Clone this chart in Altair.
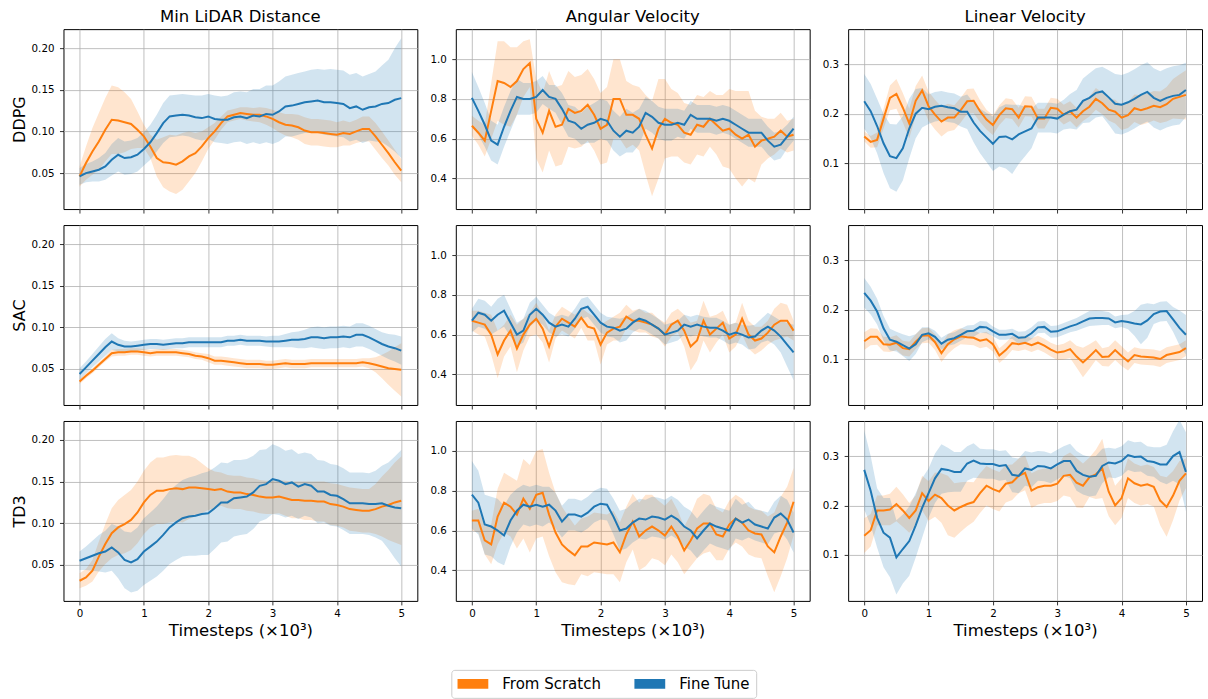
import altair as alt
import pandas as pd

# Sample positions (thousands of timesteps)
steps = [round(i * 0.1, 1) for i in range(51)]

ALGOS = ["DDPG", "SAC", "TD3"]
METRICS = ["Min LiDAR Distance", "Angular Velocity", "Linear Velocity"]
METHODS = ["From Scratch", "Fine Tune"]
COLORS = ["#ff7f0e", "#1f77b4"]

# ---- Min LiDAR Distance ----
ddpg_dist_fs = [0.046, 0.062, 0.076, 0.088, 0.102, 0.114, 0.113, 0.111, 0.109, 0.102,
                0.094, 0.082, 0.068, 0.063, 0.062, 0.060, 0.064, 0.070, 0.074, 0.082,
                0.092, 0.100, 0.110, 0.118, 0.120, 0.122, 0.121, 0.120, 0.120, 0.118,
                0.115, 0.111, 0.108, 0.107, 0.105, 0.101, 0.099, 0.099, 0.098, 0.097,
                0.096, 0.098, 0.097, 0.100, 0.103, 0.103, 0.094, 0.084, 0.074, 0.063,
                0.053]
ddpg_dist_fs_sd = [0.012, 0.020, 0.028, 0.034, 0.038, 0.041, 0.040, 0.036, 0.030, 0.022,
                   0.014, 0.014, 0.022, 0.030, 0.034, 0.035, 0.034, 0.030, 0.024, 0.018,
                   0.013, 0.010, 0.008, 0.007, 0.007, 0.007, 0.008, 0.008, 0.009, 0.010,
                   0.011, 0.012, 0.013, 0.014, 0.015, 0.016, 0.016, 0.016, 0.016, 0.016,
                   0.015, 0.015, 0.014, 0.014, 0.015, 0.015, 0.016, 0.016, 0.015, 0.015,
                   0.014]
ddpg_dist_ft = [0.046, 0.050, 0.052, 0.054, 0.058, 0.066, 0.072, 0.068, 0.069, 0.072,
                0.079, 0.087, 0.098, 0.110, 0.118, 0.119, 0.120, 0.119, 0.117, 0.116,
                0.118, 0.115, 0.114, 0.114, 0.117, 0.118, 0.116, 0.119, 0.118, 0.121,
                0.120, 0.124, 0.130, 0.131, 0.133, 0.135, 0.136, 0.137, 0.135, 0.135,
                0.134, 0.133, 0.128, 0.130, 0.126, 0.129, 0.130, 0.133, 0.134, 0.138,
                0.140]
ddpg_dist_ft_sd = [0.010, 0.011, 0.012, 0.014, 0.016, 0.019, 0.020, 0.020, 0.020, 0.020,
                   0.020, 0.021, 0.022, 0.024, 0.025, 0.025, 0.025, 0.025, 0.026, 0.027,
                   0.027, 0.028, 0.028, 0.029, 0.030, 0.030, 0.031, 0.032, 0.033, 0.034,
                   0.035, 0.036, 0.036, 0.037, 0.037, 0.037, 0.038, 0.038, 0.039, 0.040,
                   0.040, 0.040, 0.040, 0.040, 0.040, 0.040, 0.042, 0.046, 0.052, 0.062,
                   0.072]

sac_dist_fs = [0.035, 0.042, 0.048, 0.055, 0.062, 0.069, 0.070, 0.070, 0.071, 0.071,
               0.070, 0.069, 0.070, 0.070, 0.070, 0.070, 0.069, 0.068, 0.066, 0.065,
               0.063, 0.060, 0.060, 0.059, 0.058, 0.057, 0.056, 0.056, 0.056, 0.055,
               0.055, 0.056, 0.057, 0.056, 0.056, 0.056, 0.057, 0.057, 0.057, 0.057,
               0.057, 0.057, 0.057, 0.057, 0.058, 0.057, 0.055, 0.053, 0.051, 0.050,
               0.049]
sac_dist_fs_sd = [0.003, 0.003, 0.003, 0.003, 0.003, 0.004, 0.004, 0.004, 0.004, 0.004,
                  0.004, 0.004, 0.004, 0.004, 0.004, 0.004, 0.004, 0.004, 0.004, 0.004,
                  0.005, 0.005, 0.005, 0.005, 0.005, 0.005, 0.005, 0.005, 0.005, 0.005,
                  0.005, 0.005, 0.005, 0.005, 0.005, 0.005, 0.005, 0.005, 0.005, 0.005,
                  0.005, 0.005, 0.005, 0.005, 0.005, 0.006, 0.009, 0.014, 0.020, 0.026,
                  0.032]
sac_dist_ft = [0.044, 0.052, 0.060, 0.068, 0.076, 0.083, 0.079, 0.077, 0.077, 0.078,
               0.079, 0.080, 0.080, 0.079, 0.080, 0.081, 0.081, 0.082, 0.082, 0.082,
               0.082, 0.082, 0.082, 0.084, 0.084, 0.085, 0.084, 0.084, 0.084, 0.083,
               0.083, 0.083, 0.084, 0.085, 0.085, 0.086, 0.088, 0.088, 0.087, 0.088,
               0.088, 0.089, 0.088, 0.091, 0.091, 0.088, 0.084, 0.080, 0.077, 0.075,
               0.072]
sac_dist_ft_sd = [0.007, 0.007, 0.008, 0.009, 0.010, 0.010, 0.008, 0.007, 0.006, 0.006,
                  0.006, 0.006, 0.006, 0.006, 0.006, 0.006, 0.006, 0.006, 0.006, 0.006,
                  0.006, 0.006, 0.006, 0.006, 0.006, 0.006, 0.006, 0.006, 0.006, 0.006,
                  0.007, 0.007, 0.008, 0.009, 0.010, 0.011, 0.012, 0.013, 0.013, 0.013,
                  0.013, 0.013, 0.013, 0.014, 0.014, 0.014, 0.014, 0.014, 0.015, 0.016,
                  0.017]

td3_dist_fs = [0.031, 0.035, 0.043, 0.060, 0.075, 0.088, 0.095, 0.099, 0.104, 0.113,
               0.125, 0.134, 0.139, 0.139, 0.141, 0.142, 0.141, 0.143, 0.143, 0.142,
               0.141, 0.140, 0.141, 0.138, 0.137, 0.137, 0.135, 0.134, 0.132, 0.131,
               0.131, 0.132, 0.130, 0.128, 0.128, 0.127, 0.127, 0.126, 0.126, 0.123,
               0.122, 0.120, 0.117, 0.116, 0.115, 0.115, 0.117, 0.120, 0.122, 0.125,
               0.127]
td3_dist_fs_sd = [0.009, 0.010, 0.013, 0.018, 0.024, 0.030, 0.033, 0.035, 0.036, 0.037,
                  0.038, 0.039, 0.040, 0.040, 0.040, 0.040, 0.040, 0.038, 0.035, 0.030,
                  0.025, 0.022, 0.020, 0.020, 0.020, 0.020, 0.020, 0.020, 0.020, 0.020,
                  0.020, 0.020, 0.021, 0.022, 0.022, 0.023, 0.023, 0.024, 0.024, 0.025,
                  0.025, 0.025, 0.026, 0.026, 0.026, 0.026, 0.030, 0.036, 0.042, 0.048,
                  0.053]
td3_dist_ft = [0.055, 0.058, 0.061, 0.064, 0.066, 0.071, 0.065, 0.056, 0.053, 0.057,
               0.066, 0.072, 0.078, 0.086, 0.095, 0.101, 0.106, 0.108, 0.109, 0.111,
               0.112, 0.118, 0.125, 0.125, 0.130, 0.131, 0.132, 0.137, 0.145, 0.147,
               0.153, 0.151, 0.147, 0.149, 0.144, 0.147, 0.145, 0.138, 0.138, 0.134,
               0.133, 0.129, 0.124, 0.124, 0.124, 0.123, 0.123, 0.124, 0.121, 0.119,
               0.118]
td3_dist_ft_sd = [0.011, 0.014, 0.018, 0.022, 0.025, 0.028, 0.031, 0.034, 0.036, 0.038,
                  0.040, 0.041, 0.042, 0.043, 0.044, 0.045, 0.046, 0.047, 0.048, 0.049,
                  0.050, 0.049, 0.048, 0.047, 0.046, 0.045, 0.045, 0.044, 0.043, 0.042,
                  0.042, 0.041, 0.040, 0.040, 0.039, 0.038, 0.038, 0.038, 0.037, 0.037,
                  0.037, 0.037, 0.037, 0.037, 0.037, 0.037, 0.040, 0.045, 0.052, 0.061,
                  0.070]

# ---- Angular Velocity ----
ddpg_ang_fs = [0.665, 0.63, 0.59, 0.74, 0.89, 0.88, 0.86, 0.89, 0.95, 0.98,
               0.70, 0.63, 0.74, 0.66, 0.67, 0.75, 0.73, 0.74, 0.77, 0.72,
               0.65, 0.67, 0.80, 0.80, 0.72, 0.72, 0.70, 0.62, 0.55, 0.65,
               0.70, 0.68, 0.67, 0.63, 0.62, 0.67, 0.66, 0.70, 0.67, 0.64,
               0.65, 0.62, 0.60, 0.62, 0.56, 0.59, 0.60, 0.61, 0.64, 0.61,
               0.62]
ddpg_ang_fs_sd = [0.05, 0.06, 0.08, 0.14, 0.20, 0.21, 0.20, 0.17, 0.14, 0.12,
                  0.20, 0.20, 0.20, 0.20, 0.20, 0.19, 0.18, 0.18, 0.18, 0.18,
                  0.18, 0.19, 0.20, 0.20, 0.17, 0.15, 0.16, 0.20, 0.24, 0.25,
                  0.20, 0.17, 0.16, 0.15, 0.15, 0.15, 0.15, 0.14, 0.15, 0.18,
                  0.20, 0.22, 0.24, 0.22, 0.18, 0.12, 0.10, 0.09, 0.09, 0.08,
                  0.08]
ddpg_ang_ft = [0.805, 0.74, 0.67, 0.59, 0.57, 0.66, 0.74, 0.81, 0.80, 0.80,
               0.81, 0.845, 0.81, 0.80, 0.75, 0.69, 0.68, 0.65, 0.67, 0.68,
               0.70, 0.69, 0.64, 0.61, 0.64, 0.63, 0.66, 0.73, 0.71, 0.68,
               0.67, 0.67, 0.68, 0.67, 0.72, 0.70, 0.70, 0.70, 0.69, 0.70,
               0.69, 0.67, 0.65, 0.63, 0.63, 0.63, 0.59, 0.56, 0.57, 0.61,
               0.65]
ddpg_ang_ft_sd = [0.13, 0.12, 0.11, 0.10, 0.10, 0.10, 0.10, 0.09, 0.08, 0.08,
                  0.08, 0.07, 0.06, 0.07, 0.08, 0.08, 0.08, 0.08, 0.09, 0.10,
                  0.10, 0.10, 0.10, 0.10, 0.11, 0.10, 0.09, 0.08, 0.08, 0.08,
                  0.08, 0.08, 0.07, 0.07, 0.07, 0.07, 0.07, 0.07, 0.07, 0.07,
                  0.07, 0.07, 0.07, 0.07, 0.07, 0.07, 0.07, 0.07, 0.07, 0.06,
                  0.06]

sac_ang_fs = [0.67, 0.66, 0.65, 0.60, 0.50, 0.57, 0.62, 0.53, 0.60, 0.65,
              0.68, 0.63, 0.54, 0.64, 0.68, 0.66, 0.64, 0.685, 0.64, 0.63,
              0.55, 0.61, 0.63, 0.64, 0.69, 0.67, 0.67, 0.66, 0.65, 0.63,
              0.60, 0.65, 0.67, 0.62, 0.54, 0.57, 0.67, 0.60, 0.63, 0.66,
              0.58, 0.60, 0.68, 0.60, 0.57, 0.58, 0.61, 0.65, 0.67, 0.67,
              0.62]
sac_ang_fs_sd = [0.05, 0.06, 0.06, 0.10, 0.12, 0.08, 0.08, 0.12, 0.08, 0.06,
                 0.08, 0.07, 0.08, 0.06, 0.06, 0.06, 0.06, 0.05, 0.07, 0.06,
                 0.10, 0.06, 0.06, 0.07, 0.06, 0.05, 0.06, 0.05, 0.06, 0.05,
                 0.06, 0.06, 0.06, 0.08, 0.12, 0.10, 0.10, 0.09, 0.07, 0.06,
                 0.07, 0.06, 0.08, 0.07, 0.07, 0.06, 0.06, 0.08, 0.09, 0.08,
                 0.05]
sac_ang_ft = [0.67, 0.71, 0.70, 0.67, 0.70, 0.72, 0.66, 0.60, 0.62, 0.70,
              0.73, 0.70, 0.66, 0.64, 0.65, 0.64, 0.68, 0.73, 0.74, 0.70,
              0.66, 0.64, 0.635, 0.62, 0.63, 0.66, 0.68, 0.67, 0.65, 0.63,
              0.60, 0.61, 0.62, 0.65, 0.64, 0.65, 0.64, 0.635, 0.635, 0.62,
              0.60, 0.61, 0.60, 0.585, 0.59, 0.62, 0.64, 0.62, 0.59, 0.55,
              0.51]
sac_ang_ft_sd = [0.06, 0.07, 0.07, 0.07, 0.08, 0.08, 0.07, 0.06, 0.06, 0.06,
                 0.06, 0.05, 0.05, 0.05, 0.05, 0.05, 0.05, 0.05, 0.05, 0.05,
                 0.05, 0.05, 0.05, 0.06, 0.06, 0.05, 0.05, 0.05, 0.05, 0.05,
                 0.05, 0.05, 0.05, 0.05, 0.05, 0.05, 0.05, 0.05, 0.05, 0.05,
                 0.05, 0.05, 0.05, 0.06, 0.06, 0.06, 0.07, 0.07, 0.08, 0.11,
                 0.14]

td3_ang_fs = [0.65, 0.65, 0.55, 0.53, 0.67, 0.74, 0.72, 0.68, 0.76, 0.71,
              0.78, 0.79, 0.68, 0.59, 0.53, 0.50, 0.475, 0.52, 0.52, 0.54,
              0.535, 0.53, 0.54, 0.49, 0.58, 0.645, 0.57, 0.60, 0.62, 0.60,
              0.575, 0.62, 0.57, 0.50, 0.55, 0.61, 0.635, 0.635, 0.58, 0.57,
              0.63, 0.66, 0.64, 0.60, 0.585, 0.58, 0.52, 0.49, 0.57, 0.64,
              0.745]
td3_ang_fs_sd = [0.05, 0.06, 0.07, 0.10, 0.14, 0.15, 0.15, 0.17, 0.20, 0.22,
                 0.22, 0.22, 0.21, 0.20, 0.19, 0.17, 0.15, 0.14, 0.15, 0.15,
                 0.15, 0.15, 0.16, 0.15, 0.14, 0.14, 0.17, 0.18, 0.16, 0.15,
                 0.15, 0.14, 0.13, 0.12, 0.13, 0.15, 0.15, 0.14, 0.13, 0.12,
                 0.12, 0.12, 0.12, 0.12, 0.12, 0.12, 0.15, 0.20, 0.20, 0.18,
                 0.17]
td3_ang_ft = [0.78, 0.74, 0.63, 0.62, 0.60, 0.575, 0.65, 0.70, 0.73, 0.72,
              0.73, 0.72, 0.73, 0.70, 0.645, 0.68, 0.68, 0.67, 0.69, 0.72,
              0.735, 0.73, 0.67, 0.60, 0.61, 0.64, 0.66, 0.655, 0.67, 0.665,
              0.655, 0.675, 0.655, 0.62, 0.60, 0.56, 0.60, 0.635, 0.62, 0.61,
              0.60, 0.66, 0.64, 0.655, 0.63, 0.62, 0.61, 0.665, 0.685, 0.655,
              0.59]
td3_ang_ft_sd = [0.17, 0.16, 0.15, 0.15, 0.16, 0.15, 0.13, 0.11, 0.10, 0.10,
                 0.10, 0.10, 0.09, 0.09, 0.08, 0.08, 0.08, 0.08, 0.08, 0.08,
                 0.08, 0.08, 0.09, 0.10, 0.10, 0.10, 0.10, 0.10, 0.10, 0.10,
                 0.10, 0.10, 0.10, 0.10, 0.10, 0.10, 0.10, 0.10, 0.10, 0.10,
                 0.10, 0.10, 0.09, 0.09, 0.08, 0.08, 0.08, 0.08, 0.09, 0.10,
                 0.10]

# ---- Linear Velocity ----
ddpg_lin_fs = [0.154, 0.143, 0.147, 0.190, 0.232, 0.240, 0.212, 0.180, 0.226, 0.247,
               0.215, 0.198, 0.184, 0.192, 0.192, 0.207, 0.225, 0.226, 0.205, 0.188,
               0.177, 0.197, 0.211, 0.209, 0.192, 0.215, 0.214, 0.190, 0.190, 0.212,
               0.210, 0.198, 0.205, 0.192, 0.205, 0.214, 0.230, 0.221, 0.208, 0.204,
               0.192, 0.197, 0.211, 0.207, 0.211, 0.216, 0.213, 0.219, 0.230, 0.234,
               0.238]
ddpg_lin_fs_sd = [0.010, 0.012, 0.015, 0.020, 0.025, 0.030, 0.030, 0.030, 0.030, 0.030,
                  0.030, 0.030, 0.030, 0.028, 0.025, 0.025, 0.025, 0.025, 0.022, 0.020,
                  0.020, 0.020, 0.020, 0.020, 0.020, 0.020, 0.020, 0.020, 0.020, 0.020,
                  0.020, 0.020, 0.020, 0.020, 0.020, 0.020, 0.022, 0.022, 0.022, 0.024,
                  0.025, 0.026, 0.028, 0.030, 0.030, 0.030, 0.032, 0.035, 0.040, 0.045,
                  0.050]
ddpg_lin_ft = [0.225, 0.205, 0.175, 0.140, 0.114, 0.110, 0.130, 0.170, 0.200, 0.212,
               0.209, 0.214, 0.216, 0.213, 0.211, 0.204, 0.204, 0.182, 0.165, 0.152,
               0.139, 0.153, 0.154, 0.148, 0.158, 0.164, 0.170, 0.192, 0.192, 0.192,
               0.190, 0.198, 0.205, 0.208, 0.226, 0.232, 0.242, 0.245, 0.233, 0.220,
               0.218, 0.223, 0.230, 0.238, 0.244, 0.232, 0.226, 0.232, 0.236, 0.238,
               0.248]
ddpg_lin_ft_sd = [0.055, 0.055, 0.055, 0.060, 0.065, 0.068, 0.065, 0.060, 0.050, 0.040,
                  0.030, 0.030, 0.030, 0.030, 0.030, 0.030, 0.035, 0.040, 0.045, 0.050,
                  0.055, 0.060, 0.065, 0.070, 0.060, 0.050, 0.040, 0.030, 0.030, 0.030,
                  0.030, 0.030, 0.035, 0.040, 0.045, 0.050, 0.050, 0.050, 0.055, 0.060,
                  0.060, 0.060, 0.060, 0.060, 0.060, 0.060, 0.060, 0.060, 0.060, 0.060,
                  0.055]

sac_lin_fs = [0.136, 0.145, 0.145, 0.130, 0.129, 0.133, 0.122, 0.120, 0.135, 0.147,
              0.148, 0.134, 0.112, 0.130, 0.140, 0.146, 0.144, 0.143, 0.137, 0.140,
              0.130, 0.107, 0.118, 0.132, 0.130, 0.133, 0.128, 0.133, 0.127, 0.119,
              0.113, 0.115, 0.120, 0.105, 0.093, 0.105, 0.118, 0.104, 0.105, 0.118,
              0.106, 0.095, 0.108, 0.105, 0.104, 0.103, 0.100, 0.108, 0.111, 0.114,
              0.122]
sac_lin_fs_sd = [0.018, 0.017, 0.016, 0.015, 0.015, 0.015, 0.015, 0.015, 0.015, 0.015,
                 0.015, 0.016, 0.018, 0.020, 0.018, 0.016, 0.015, 0.015, 0.015, 0.015,
                 0.015, 0.015, 0.015, 0.014, 0.014, 0.014, 0.014, 0.014, 0.014, 0.014,
                 0.015, 0.016, 0.018, 0.022, 0.030, 0.025, 0.020, 0.018, 0.020, 0.020,
                 0.020, 0.018, 0.016, 0.016, 0.016, 0.016, 0.016, 0.016, 0.016, 0.016,
                 0.016]
sac_lin_ft = [0.234, 0.218, 0.196, 0.162, 0.139, 0.135, 0.128, 0.121, 0.130, 0.149,
              0.152, 0.145, 0.131, 0.139, 0.142, 0.149, 0.156, 0.157, 0.165, 0.164,
              0.156, 0.149, 0.149, 0.151, 0.143, 0.144, 0.152, 0.164, 0.165, 0.155,
              0.156, 0.161, 0.166, 0.170, 0.176, 0.182, 0.183, 0.183, 0.182, 0.174,
              0.177, 0.175, 0.172, 0.170, 0.178, 0.191, 0.196, 0.197, 0.180, 0.163,
              0.149]
sac_lin_ft_sd = [0.030, 0.028, 0.026, 0.025, 0.022, 0.020, 0.022, 0.025, 0.020, 0.015,
                 0.012, 0.012, 0.012, 0.012, 0.012, 0.012, 0.012, 0.012, 0.012, 0.012,
                 0.010, 0.010, 0.010, 0.010, 0.012, 0.012, 0.012, 0.012, 0.012, 0.012,
                 0.012, 0.012, 0.012, 0.013, 0.014, 0.015, 0.015, 0.014, 0.013, 0.012,
                 0.012, 0.015, 0.025, 0.040, 0.035, 0.020, 0.020, 0.020, 0.025, 0.035,
                 0.040]

td3_lin_fs = [0.139, 0.150, 0.190, 0.190, 0.192, 0.203, 0.190, 0.175, 0.190, 0.225,
              0.209, 0.222, 0.215, 0.200, 0.190, 0.197, 0.203, 0.207, 0.225, 0.240,
              0.233, 0.228, 0.244, 0.247, 0.260, 0.266, 0.230, 0.237, 0.240, 0.240,
              0.244, 0.260, 0.262, 0.246, 0.240, 0.257, 0.263, 0.275, 0.228, 0.200,
              0.215, 0.255, 0.245, 0.240, 0.243, 0.238, 0.210, 0.197, 0.220, 0.250,
              0.265]
td3_lin_fs_sd = [0.035, 0.033, 0.030, 0.030, 0.032, 0.035, 0.033, 0.030, 0.030, 0.035,
                 0.040, 0.045, 0.050, 0.060, 0.055, 0.050, 0.045, 0.040, 0.040, 0.040,
                 0.040, 0.040, 0.038, 0.036, 0.035, 0.035, 0.035, 0.035, 0.035, 0.035,
                 0.035, 0.040, 0.045, 0.050, 0.045, 0.040, 0.050, 0.060, 0.050, 0.040,
                 0.040, 0.040, 0.040, 0.040, 0.040, 0.040, 0.050, 0.060, 0.050, 0.040,
                 0.030]
td3_lin_ft = [0.272, 0.230, 0.175, 0.145, 0.135, 0.095, 0.112, 0.128, 0.160, 0.195,
              0.225, 0.255, 0.274, 0.272, 0.268, 0.268, 0.285, 0.291, 0.285, 0.284,
              0.284, 0.280, 0.282, 0.262, 0.260, 0.275, 0.272, 0.280, 0.279, 0.275,
              0.283, 0.290, 0.290, 0.270, 0.262, 0.258, 0.260, 0.280, 0.287, 0.285,
              0.290, 0.302, 0.298, 0.299, 0.290, 0.288, 0.283, 0.283, 0.300, 0.308,
              0.268]
td3_lin_ft_sd = [0.080, 0.070, 0.060, 0.070, 0.080, 0.075, 0.070, 0.070, 0.065, 0.060,
                 0.050, 0.050, 0.050, 0.045, 0.040, 0.040, 0.035, 0.035, 0.030, 0.030,
                 0.030, 0.030, 0.030, 0.035, 0.035, 0.035, 0.035, 0.030, 0.030, 0.030,
                 0.030, 0.030, 0.035, 0.040, 0.040, 0.040, 0.040, 0.035, 0.030, 0.030,
                 0.030, 0.030, 0.030, 0.030, 0.030, 0.030, 0.035, 0.040, 0.050, 0.065,
                 0.080]

series = {
    ("DDPG", "Min LiDAR Distance"): [(ddpg_dist_fs, ddpg_dist_fs_sd), (ddpg_dist_ft, ddpg_dist_ft_sd)],
    ("SAC", "Min LiDAR Distance"): [(sac_dist_fs, sac_dist_fs_sd), (sac_dist_ft, sac_dist_ft_sd)],
    ("TD3", "Min LiDAR Distance"): [(td3_dist_fs, td3_dist_fs_sd), (td3_dist_ft, td3_dist_ft_sd)],
    ("DDPG", "Angular Velocity"): [(ddpg_ang_fs, ddpg_ang_fs_sd), (ddpg_ang_ft, ddpg_ang_ft_sd)],
    ("SAC", "Angular Velocity"): [(sac_ang_fs, sac_ang_fs_sd), (sac_ang_ft, sac_ang_ft_sd)],
    ("TD3", "Angular Velocity"): [(td3_ang_fs, td3_ang_fs_sd), (td3_ang_ft, td3_ang_ft_sd)],
    ("DDPG", "Linear Velocity"): [(ddpg_lin_fs, ddpg_lin_fs_sd), (ddpg_lin_ft, ddpg_lin_ft_sd)],
    ("SAC", "Linear Velocity"): [(sac_lin_fs, sac_lin_fs_sd), (sac_lin_ft, sac_lin_ft_sd)],
    ("TD3", "Linear Velocity"): [(td3_lin_fs, td3_lin_fs_sd), (td3_lin_ft, td3_lin_ft_sd)],
}

rows = []
for (algo, metric), pairs in series.items():
    for method, (mean, sd) in zip(METHODS, pairs):
        for x, m, s in zip(steps, mean, sd):
            rows.append({"algo": algo, "metric": metric, "method": method,
                         "x": x, "mean": m, "lo": m - s, "hi": m + s})
df = pd.DataFrame(rows)

Y_DOMAIN = {
    "Min LiDAR Distance": [0.0068, 0.2228],
    "Angular Velocity": [0.246, 1.151],
    "Linear Velocity": [0.007, 0.371],
}
Y_TICKS = {
    "Min LiDAR Distance": [0.05, 0.10, 0.15, 0.20],
    "Angular Velocity": [0.4, 0.6, 0.8, 1.0],
    "Linear Velocity": [0.1, 0.2, 0.3],
}
Y_FMT = {"Min LiDAR Distance": ".2f", "Angular Velocity": ".1f", "Linear Velocity": ".1f"}

FONT = "DejaVu Sans"
PANEL_W, PANEL_H = 354, 180

legend_symbol = "M-1,-0.32H1V0.32H-1Z"


def panel(r, c):
    algo, metric = ALGOS[r], METRICS[c]
    sub = df[(df["algo"] == algo) & (df["metric"] == metric)]
    bottom = r == len(ALGOS) - 1
    xaxis = alt.Axis(values=[0, 1, 2, 3, 4, 5], format="d", labels=bottom,
                     title="Timesteps (×10³)" if bottom else None)
    yaxis = alt.Axis(values=Y_TICKS[metric], format=Y_FMT[metric],
                     title=algo if c == 0 else None)
    xenc = alt.X("x:Q", scale=alt.Scale(domain=[-0.25, 5.25], nice=False, zero=False), axis=xaxis)
    yscale = alt.Scale(domain=Y_DOMAIN[metric], nice=False, zero=False)
    color_scale = alt.Scale(domain=METHODS, range=COLORS)

    band = alt.Chart(sub).mark_area(opacity=0.2, clip=True).encode(
        x=xenc,
        y=alt.Y("lo:Q", scale=yscale, axis=yaxis),
        y2="hi:Q",
        color=alt.Color(
            "method:N", scale=color_scale,
            legend=alt.Legend(
                title=None, orient="none", direction="horizontal",
                legendX=388, legendY=641,
                symbolType=legend_symbol, symbolSize=961, symbolOpacity=1,
                symbolStrokeWidth=0, clipHeight=16, labelOffset=14,
                columnPadding=33, padding=6, strokeColor="#cccccc",
                fillColor="white", cornerRadius=3, labelFontSize=15,
                labelFont=FONT, labelColor="black",
            ),
        ),
    )
    line = alt.Chart(sub).mark_line(strokeWidth=2, clip=True).encode(
        x=xenc,
        y=alt.Y("mean:Q", scale=yscale, axis=yaxis),
        color=alt.Color("method:N", scale=color_scale, legend=None),
    )
    ch = alt.layer(band, line).properties(width=PANEL_W, height=PANEL_H)
    if r == 0:
        ch = ch.properties(title=alt.TitleParams(
            metric, font=FONT, fontSize=16.5, fontWeight="normal",
            color="black", anchor="middle", offset=3.5))
    return ch


panels = [panel(r, c) for r in range(3) for c in range(3)]

chart = (
    alt.concat(*panels, columns=3, spacing={"row": 16, "column": 38.5}, bounds="flush")
    .resolve_scale(x="independent", y="independent", color="shared")
    .properties(padding={"left": 10.5, "top": 8, "right": 5, "bottom": 5})
    .configure(font=FONT, background="white")
    .configure_view(stroke="black", strokeWidth=1)
    .configure_axis(
        grid=True, gridColor="#b0b0b0", gridWidth=0.8, domain=False,
        ticks=True, tickColor="black", tickSize=4, tickWidth=0.8,
        labelFont=FONT, labelFontSize=10.3, labelColor="black", labelPadding=5.5,
        titleFont=FONT, titleFontSize=16.5, titleFontWeight="normal",
        titleColor="black", titlePadding=4,
    )
    .configure_axisX(labelPadding=4, titlePadding=3)
    .configure_axisY(titleFontSize=16)
)

chart.save("out.html", embed_options={"renderer": "svg", "actions": False})
